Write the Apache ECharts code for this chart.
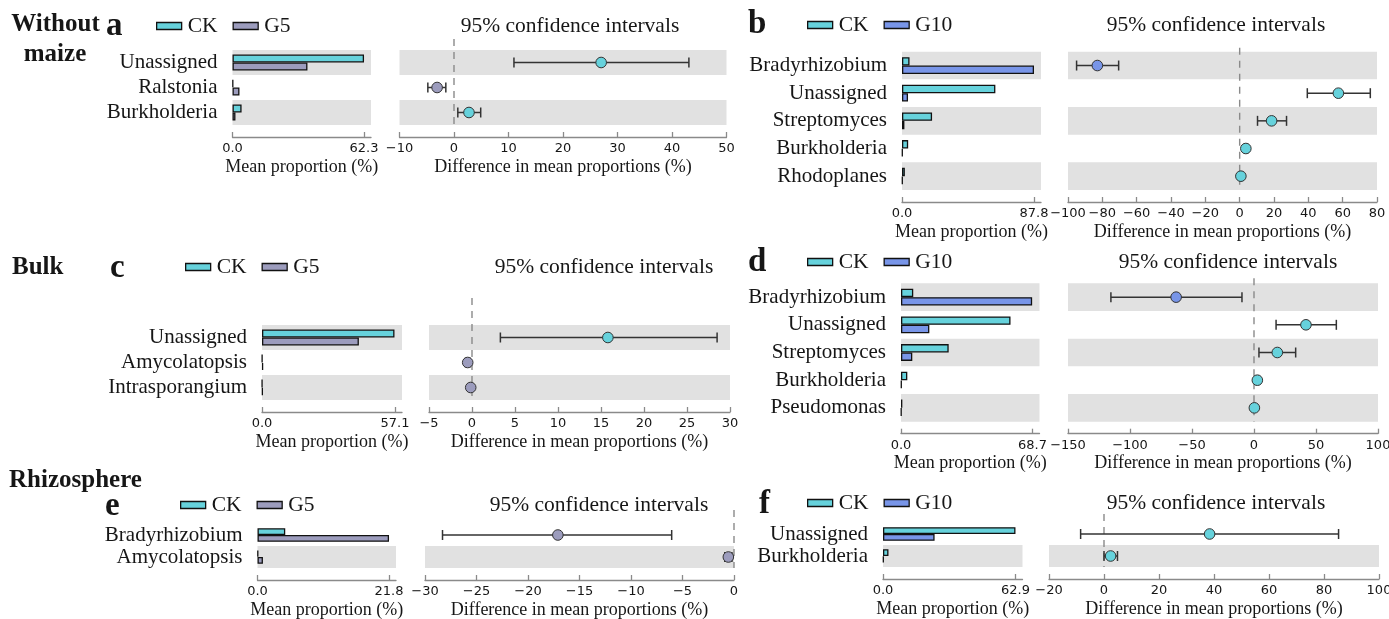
<!DOCTYPE html>
<html><head><meta charset="utf-8">
<script src="https://cdn.jsdelivr.net/npm/echarts@6/dist/echarts.min.js"></script>
<style>html,body{margin:0;padding:0;background:#fff}#c{width:1389px;height:619px}</style>
</head><body><div id="c"></div>
<script>
// ---------- data ----------
const catsA = ['Unassigned', 'Ralstonia', 'Burkholderia'];
const ckA = [62.3, 0.3, 4.3];
const g5A = [35.5, 3.3, 1.4];
const diffA = [27.0, -3.1, 2.75];
const lowA = [11.0, -4.8, 0.7];
const highA = [43.1, -1.5, 4.9];

const catsB = ['Bradyrhizobium', 'Unassigned', 'Streptomyces', 'Burkholderia', 'Rhodoplanes'];
const ckB = [5.0, 62.1, 20.0, 4.1, 1.9];
const g10B = [87.8, 4.0, 1.6, 0.4, 0.4];
const diffB = [-82.9, 57.5, 18.6, 3.6, 0.7];
const lowB = [-95.0, 39.4, 10.4, 2.6, 0.3];
const highB = [-70.5, 76.1, 27.3, 4.6, 1.1];

const catsC = ['Unassigned', 'Amycolatopsis', 'Intrasporangium'];
const ckC = [56.9, 0.1, 0.05];
const g5C = [41.6, 0.5, 0.3];
const diffC = [15.8, -0.5, -0.15];
const lowC = [3.3, -0.75, -0.3];
const highC = [28.5, -0.25, 0.0];

const catsD = ['Bradyrhizobium', 'Unassigned', 'Streptomyces', 'Burkholderia', 'Pseudomonas'];
const ckD = [6.4, 57.2, 24.9, 3.3, 0.7];
const g10D = [68.5, 14.8, 5.9, 0.3, 0.2];
const diffD = [-62.8, 41.9, 18.8, 2.7, 0.3];
const lowD = [-115.4, 17.8, 4.0, 1.6, -0.3];
const highD = [-9.7, 66.4, 33.6, 3.8, 0.9];

const catsE = ['Bradyrhizobium', 'Amycolatopsis'];
const ckE = [4.6, 0.1];
const g5E = [21.8, 0.9];
const diffE = [-17.1, -0.55];
const lowE = [-28.3, -0.9];
const highE = [-6.05, -0.2];

const catsF = ['Unassigned', 'Burkholderia'];
const ckF = [62.9, 2.6];
const g10F = [24.5, 0.3];
const diffF = [38.4, 2.4];
const lowF = [-8.5, 0.0];
const highF = [85.3, 4.9];

// tick labels of the mean-proportion axes
const barTickA = 62.3, barTickB = 87.8, barTickC = 57.1, barTickD = 68.7, barTickE = 21.8, barTickF = 62.9;
// difference axes [min, max, interval]
const ciAxisA = [-10, 50, 10], ciAxisB = [-100, 80, 20], ciAxisC = [-5, 30, 5];
const ciAxisD = [-150, 100, 50], ciAxisE = [-30, 0, 5], ciAxisF = [-20, 100, 20];

// ---------- style ----------
const CK = '#66d2dc', G5 = '#9c9cbd', G10 = '#7895e8', BAND = '#e1e1e1', TXT = '#161616';
const SERIF = 'Liberation Serif', SANS = 'DejaVu Sans';

const panels = [
  {letter:'a', cats:catsA, ck:ckA, tr:g5A, trName:'G5', trCol:G5, diff:diffA, lo:lowA, hi:highA, tick:barTickA, ci:ciAxisA,
   bar:{left:232.5, top:50, width:138.5, height:75}, ciG:{left:399.5, width:327}, bw:8, over:11,
   letterPos:[106, 9], legendPos:[156, 15], titleX:570, titleY:26},
  {letter:'b', cats:catsB, ck:ckB, tr:g10B, trName:'G10', trCol:G10, diff:diffB, lo:lowB, hi:highB, tick:barTickB, ci:ciAxisB,
   bar:{left:902, top:51.7, width:139, height:138.3}, ciG:{left:1068, width:309}, bw:8.4, over:4,
   letterPos:[748, 7], legendPos:[807, 14], titleX:1216, titleY:25},
  {letter:'c', cats:catsC, ck:ckC, tr:g5C, trName:'G5', trCol:G5, diff:diffC, lo:lowC, hi:highC, tick:barTickC, ci:ciAxisC,
   bar:{left:262, top:325, width:140, height:75}, ciG:{left:429, width:301}, bw:8, over:27,
   letterPos:[110, 251], legendPos:[185, 256], titleX:604, titleY:267},
  {letter:'d', cats:catsD, ck:ckD, tr:g10D, trName:'G10', trCol:G10, diff:diffD, lo:lowD, hi:highD, tick:barTickD, ci:ciAxisD,
   bar:{left:901, top:283.3, width:138.5, height:138.4}, ciG:{left:1068, width:310}, bw:8.4, over:5,
   letterPos:[748, 245], legendPos:[807, 251], titleX:1228, titleY:262},
  {letter:'e', cats:catsE, ck:ckE, tr:g5E, trName:'G5', trCol:G5, diff:diffE, lo:lowE, hi:highE, tick:barTickE, ci:ciAxisE,
   bar:{left:257.5, top:524, width:138.5, height:44}, ciG:{left:425, width:309}, bw:6.8, over:14,
   letterPos:[105, 489], legendPos:[180, 494], titleX:599, titleY:505},
  {letter:'f', cats:catsF, ck:ckF, tr:g10F, trName:'G10', trCol:G10, diff:diffF, lo:lowF, hi:highF, tick:barTickF, ci:ciAxisF,
   bar:{left:883, top:523, width:139.5, height:44}, ciG:{left:1049, width:330}, bw:6.8, over:9,
   letterPos:[759, 487], legendPos:[807, 492], titleX:1216, titleY:503}
];

const grid = [], xAxis = [], yAxis = [], series = [], title = [], legend = [];
const minus = v => (v < 0 ? '\u2212' : '') + Math.abs(v);

title.push({text:'Without', left:55.5, top:12, textAlign:'center', padding:0,
  textStyle:{fontFamily:SERIF, fontWeight:'bold', fontSize:25, lineHeight:26, color:TXT}});
title.push({text:'maize', left:55, top:42, textAlign:'center', padding:0,
  textStyle:{fontFamily:SERIF, fontWeight:'bold', fontSize:25, lineHeight:26, color:TXT}});
title.push({text:'Bulk', left:12, top:255, padding:0,
  textStyle:{fontFamily:SERIF, fontWeight:'bold', fontSize:25, lineHeight:26, color:TXT}});
title.push({text:'Rhizosphere', left:9, top:468, padding:0,
  textStyle:{fontFamily:SERIF, fontWeight:'bold', fontSize:25, lineHeight:26, color:TXT}});

panels.forEach((p, i) => {
  const n = p.cats.length;
  const bands = n % 2 === 1 ? [BAND, 'rgba(0,0,0,0)'] : ['rgba(0,0,0,0)', BAND];
  const gb = Object.assign({containLabel:false, outerBoundsMode:'none'}, p.bar);
  const gc = {containLabel:false, outerBoundsMode:'none', left:p.ciG.left, width:p.ciG.width, top:p.bar.top, height:p.bar.height};
  grid.push(gb, gc);
  const xb = 2*i, xc = 2*i+1;

  title.push({text:p.letter, left:p.letterPos[0], top:p.letterPos[1], padding:0,
    textStyle:{fontFamily:SERIF, fontWeight:'bold', fontSize:33, lineHeight:34, color:TXT}});
  title.push({text:'95% confidence intervals', left:p.titleX, top:p.titleY-11, textAlign:'center', padding:0,
    textStyle:{fontFamily:SERIF, fontWeight:'normal', fontSize:21.5, lineHeight:22, color:TXT}});
  legend.push({data:['CK', p.trName], left:p.legendPos[0], top:p.legendPos[1], padding:0, itemGap:15,
    itemWidth:25, itemHeight:7, icon:'rect', selectedMode:false,
    itemStyle:{borderColor:'#111', borderWidth:1.3},
    textStyle:{fontFamily:SERIF, fontSize:21.5, color:TXT, padding:[0,0,0,1]}});

  xAxis.push({gridIndex:xb, type:'value', min:0, max:p.tick*1.053, offset:12,
    axisLine:{show:true, lineStyle:{color:'#8a8a8a', width:1.3}},
    axisTick:{show:true, inside:true, length:5, customValues:[0, p.tick], lineStyle:{color:'#8a8a8a', width:1.3}},
    axisLabel:{customValues:[0, p.tick], formatter:v => v.toFixed(1), fontFamily:SANS, fontSize:13, color:TXT, margin:5},
    splitLine:{show:false},
    name:'Mean proportion (%)', nameLocation:'middle', nameGap:21,
    nameTextStyle:{fontFamily:SERIF, fontSize:18, color:TXT}});
  xAxis.push({gridIndex:xc, type:'value', min:p.ci[0], max:p.ci[1], interval:p.ci[2], offset:12,
    axisLine:{show:true, lineStyle:{color:'#8a8a8a', width:1.3}},
    axisTick:{show:true, inside:true, length:5, lineStyle:{color:'#8a8a8a', width:1.3}},
    axisLabel:{formatter:minus, fontFamily:SANS, fontSize:13, color:TXT, margin:5},
    splitLine:{show:false},
    name:'Difference in mean proportions (%)', nameLocation:'middle', nameGap:21,
    nameTextStyle:{fontFamily:SERIF, fontSize:18, color:TXT}});

  const yBase = {type:'category', data:p.cats, inverse:true,
    axisLine:{show:false}, axisTick:{show:false}, splitLine:{show:false},
    splitArea:{show:true, areaStyle:{color:bands}}};
  yAxis.push(Object.assign({gridIndex:xb,
    axisLabel:{interval:0, hideOverlap:false, fontFamily:SERIF, fontSize:21, color:TXT, margin:15}}, yBase));
  yAxis.push(Object.assign({gridIndex:xc, axisLabel:{show:false}}, yBase));

  series.push({type:'bar', name:'CK', xAxisIndex:xb, yAxisIndex:xb, data:p.ck, barWidth:p.bw, barGap:'0%',
    itemStyle:{color:CK, borderColor:'#111', borderWidth:1.3}, animation:false});
  series.push({type:'bar', name:p.trName, xAxisIndex:xb, yAxisIndex:xb, data:p.tr, barWidth:p.bw, barGap:'0%',
    itemStyle:{color:p.trCol, borderColor:'#111', borderWidth:1.3}, animation:false});

  series.push({type:'custom', name:'zero'+i, xAxisIndex:xc, yAxisIndex:xc, data:[[0, 0]],
    encode:{x:0, y:1}, animation:false, silent:true,
    renderItem:(params, api) => {
      const x = api.coord([0, 0])[0];
      const cs = params.coordSys;
      return {type:'line', shape:{x1:x, y1:cs.y - p.over, x2:x, y2:cs.y + cs.height},
        style:{stroke:'#8a8a8a', lineWidth:1.4, lineDash:[7, 6]}};
    }});

  const ciData = p.diff.map((d, j) => [d, p.lo[j], p.hi[j], j]);
  series.push({type:'custom', name:'ci'+i, xAxisIndex:xc, yAxisIndex:xc, data:ciData,
    encode:{x:[0, 1, 2], y:3}, animation:false,
    renderItem:(params, api) => {
      const j = api.value(3);
      const y = api.coord([0, j])[1];
      const xm = api.coord([api.value(0), j])[0];
      const xl = api.coord([api.value(1), j])[0];
      const xh = api.coord([api.value(2), j])[0];
      const col = api.value(0) >= 0 ? CK : p.trCol;
      const st = {stroke:'#333', lineWidth:1.5};
      return {type:'group', children:[
        {type:'line', shape:{x1:xl, y1:y, x2:xh, y2:y}, style:st},
        {type:'line', shape:{x1:xl, y1:y-5, x2:xl, y2:y+5}, style:st},
        {type:'line', shape:{x1:xh, y1:y-5, x2:xh, y2:y+5}, style:st},
        {type:'circle', shape:{cx:xm, cy:y, r:5.3}, style:{fill:col, stroke:'#333', lineWidth:1}}
      ]};
    }});
});

const chart = echarts.init(document.getElementById('c'), null, {renderer:'canvas'});
chart.setOption({backgroundColor:'#fff', animation:false, title, legend, grid, xAxis, yAxis, series, tooltip:{show:false}});
</script></body></html>
